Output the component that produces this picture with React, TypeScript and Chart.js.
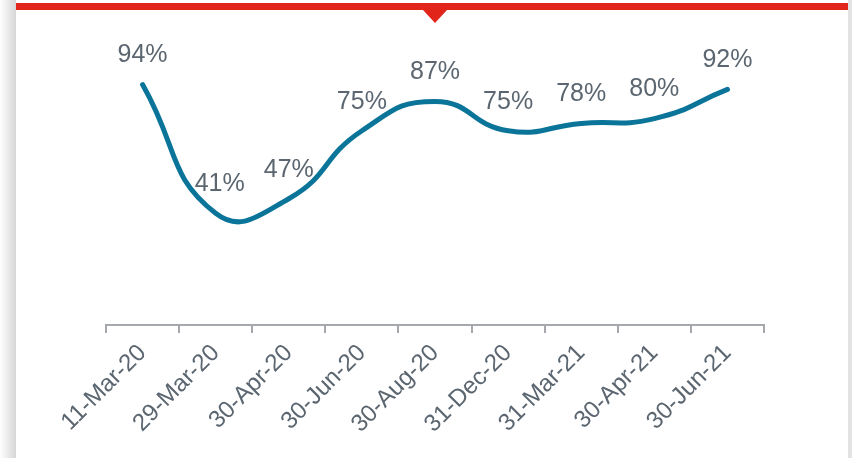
import React, { useEffect, useRef } from "react";
import { Chart, registerables } from "chart.js";

Chart.register(...registerables);

const categories = [
  "11-Mar-20",
  "29-Mar-20",
  "30-Apr-20",
  "30-Jun-20",
  "30-Aug-20",
  "31-Dec-20",
  "31-Mar-21",
  "30-Apr-21",
  "30-Jun-21",
];
const values = [94, 41, 47, 75, 87, 75, 78, 80, 92];
const valueLabels = ["94%", "41%", "47%", "75%", "87%", "75%", "78%", "80%", "92%"];

const LINE_COLOR = "#0b7499";
const TEXT_COLOR = "#5b6670";
const AXIS_COLOR = "#a5a9ad";
const FONT = '"Liberation Sans", Arial, sans-serif';

const dataLabelPlugin = {
  id: "dataLabels",
  afterDatasetsDraw(chart: any) {
    const meta = chart.getDatasetMeta(0);
    const ctx = chart.ctx;
    ctx.save();
    ctx.fillStyle = TEXT_COLOR;
    ctx.font = `25px ${FONT}`;
    ctx.textAlign = "center";
    ctx.textBaseline = "middle";
    meta.data.forEach((pt: any, i: number) => {
      ctx.fillText(valueLabels[i], pt.x + (i === 1 ? 4 : 0), pt.y - 29);
    });
    ctx.restore();
  },
};

export default function App() {
  const ref = useRef<HTMLCanvasElement | null>(null);

  useEffect(() => {
    if (!ref.current) return;
    const chart = new Chart(ref.current, {
      type: "line",
      data: {
        labels: categories,
        datasets: [
          {
            data: values,
            borderColor: LINE_COLOR,
            borderWidth: 5,
            tension: 0.5,
            pointRadius: 0,
            pointHoverRadius: 0,
            fill: false,
            borderCapStyle: "round",
            borderJoinStyle: "round",
            clip: false as any,
          },
        ],
      },
      options: {
        responsive: false,
        animation: false,
        devicePixelRatio: 1,
        layout: { padding: { left: 106, right: 88, top: 70, bottom: 0 } },
        plugins: {
          legend: { display: false },
          tooltip: { enabled: false },
        },
        scales: {
          x: {
            type: "category",
            offset: true,
            grid: {
              display: true,
              drawOnChartArea: false,
              drawTicks: true,
              tickLength: 8,
              tickWidth: 2,
              color: AXIS_COLOR,
              lineWidth: 2,
              offset: true,
            },
            border: { display: true, color: AXIS_COLOR, width: 2 },
            ticks: {
              maxRotation: 45,
              minRotation: 45,
              autoSkip: false,
              padding: 6,
              color: TEXT_COLOR,
              font: { size: 24, family: FONT },
            },
            afterFit: (s: any) => {
              s.height = 133;
            },
          },
          y: {
            display: false,
            min: -5,
            max: 100,
          },
        },
      },
      plugins: [dataLabelPlugin],
    });
    return () => chart.destroy();
  }, []);

  return (
    <div style={{ position: "relative", width: 852, height: 458, background: "#fff", overflow: "hidden" }}>
      <style>{`body{margin:0}`}</style>
      <div
        style={{
          position: "absolute",
          left: 0,
          top: 0,
          width: 16,
          height: 458,
          background: "linear-gradient(to right, #ffffff, #d6d6d6)",
        }}
      />
      <div style={{ position: "absolute", left: 848, top: 0, width: 4, height: 458, background: "#e2e2e2" }} />
      <div style={{ position: "absolute", left: 16, top: 3, width: 832, height: 7, background: "#e1251b" }} />
      <div
        style={{
          position: "absolute",
          left: 423,
          top: 10,
          width: 0,
          height: 0,
          borderLeft: "12.5px solid transparent",
          borderRight: "12.5px solid transparent",
          borderTop: "13px solid #e1251b",
        }}
      />
      <canvas
        ref={ref}
        width={852}
        height={458}
        style={{ position: "absolute", left: 0, top: 0, width: 852, height: 458 }}
      />
    </div>
  );
}
